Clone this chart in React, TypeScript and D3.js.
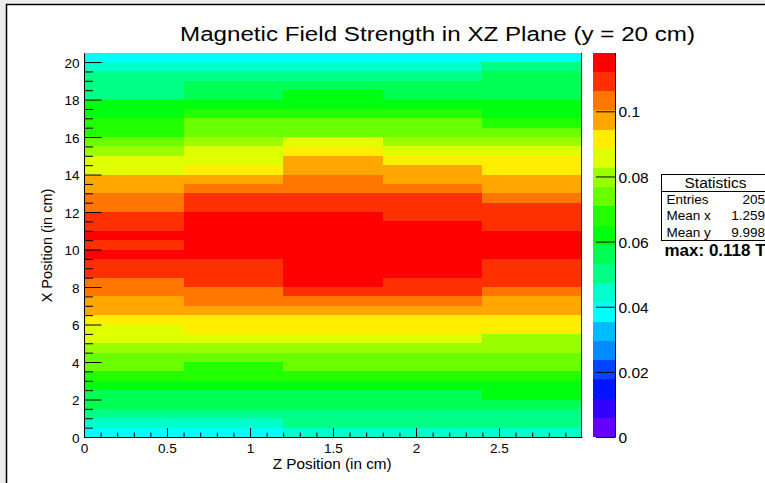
import React, { useEffect, useRef } from 'react';
import * as d3 from 'd3';

const W = 765;
const H = 483;

// z bin edges (cm) and the x bins (41 bins of 0.5 cm from 0)
const zEdges = [0, 0.6, 1.2, 1.8, 2.4, 3.0];
const xBinWidth = 0.5;
const xBinCount = 41;

// |B| in tesla per x bin (bottom to top), one list per z bin
const bZ03 = [0.039, 0.045, 0.05, 0.055, 0.058, 0.063, 0.068, 0.072, 0.076, 0.081, 0.084, 0.088, 0.092, 0.096, 0.099, 0.102, 0.105, 0.108, 0.111, 0.113, 0.111, 0.113, 0.111, 0.107, 0.105, 0.101, 0.099, 0.095, 0.088, 0.084, 0.08, 0.076, 0.07, 0.066, 0.063, 0.06, 0.052, 0.05, 0.048, 0.044, 0.039];
const bZ09 = [0.04, 0.046, 0.051, 0.056, 0.058, 0.064, 0.068, 0.07, 0.075, 0.08, 0.086, 0.09, 0.093, 0.098, 0.102, 0.105, 0.108, 0.11, 0.111, 0.114, 0.114, 0.115, 0.114, 0.113, 0.111, 0.108, 0.104, 0.099, 0.093, 0.088, 0.084, 0.08, 0.075, 0.072, 0.067, 0.062, 0.057, 0.054, 0.05, 0.045, 0.04];
const bZ15 = [0.043, 0.049, 0.052, 0.056, 0.058, 0.063, 0.067, 0.072, 0.076, 0.081, 0.086, 0.091, 0.093, 0.099, 0.104, 0.108, 0.113, 0.115, 0.116, 0.117, 0.118, 0.117, 0.116, 0.114, 0.111, 0.108, 0.105, 0.101, 0.097, 0.095, 0.091, 0.086, 0.076, 0.073, 0.068, 0.064, 0.06, 0.055, 0.051, 0.046, 0.041];
const bZ21 = [0.044, 0.049, 0.052, 0.056, 0.058, 0.063, 0.068, 0.072, 0.075, 0.08, 0.085, 0.09, 0.093, 0.098, 0.103, 0.107, 0.111, 0.113, 0.115, 0.116, 0.116, 0.115, 0.113, 0.111, 0.109, 0.107, 0.103, 0.099, 0.096, 0.092, 0.087, 0.081, 0.075, 0.072, 0.067, 0.062, 0.058, 0.055, 0.05, 0.045, 0.04];
const bZ27 = [0.042, 0.048, 0.051, 0.055, 0.06, 0.063, 0.067, 0.072, 0.075, 0.079, 0.082, 0.089, 0.093, 0.097, 0.1, 0.104, 0.107, 0.109, 0.111, 0.113, 0.114, 0.113, 0.11, 0.108, 0.107, 0.104, 0.099, 0.096, 0.092, 0.089, 0.085, 0.079, 0.073, 0.069, 0.064, 0.061, 0.057, 0.055, 0.054, 0.049, 0.04];
const columns = [bZ03, bZ09, bZ15, bZ21, bZ27];

const zMax = 0.118;
// 20 contour colours, low to high
const paletteColors = [
  '#6300ff', '#3300ff', '#0014ff', '#0044ff', '#008bff', '#00bbff', '#00fffc', '#00ffcc', '#00ff85', '#00ff55',
  '#00ff0e', '#22ff00', '#69ff00', '#99ff00', '#e0ff00', '#ffee00', '#ffa700', '#ff7700', '#ff3000', '#ff0000',
];

const zTicks = [0, 0.5, 1, 1.5, 2, 2.5];
const xTicks = [0, 2, 4, 6, 8, 10, 12, 14, 16, 18, 20];
const palTicks = [0, 0.02, 0.04, 0.06, 0.08, 0.1];

const statsRows = [
  ['Entries', '205'],
  ['Mean x', '1.259'],
  ['Mean y', '9.998'],
];

const font = "'Liberation Sans', Arial, Helvetica, sans-serif";

export default function App() {
  const ref = useRef<SVGSVGElement>(null);

  useEffect(() => {
    const svg = d3.select(ref.current);
    svg.selectAll('*').remove();

    // canvas
    svg.append('rect').attr('width', W).attr('height', H).attr('fill', '#ececec');
    svg.append('rect')
      .attr('x', 6.5).attr('y', 4.5)
      .attr('width', W).attr('height', H)
      .attr('fill', '#fff').attr('stroke', '#000').attr('stroke-width', 1.5);

    const x = d3.scaleLinear().domain([0, 3]).range([84, 582]);
    const y = d3.scaleLinear().domain([0, xBinCount * xBinWidth]).range([437, 52.7]);
    const pal = d3.scaleLinear().domain([0, zMax]).range([437, 52.7]);
    const nCol = paletteColors.length;
    const level = (v: number) => Math.min(nCol - 1, Math.floor((v / zMax) * nCol));

    // title
    svg.append('text')
      .attr('x', 180).attr('y', 41)
      .attr('font-family', font).attr('font-size', 20)
      .attr('textLength', 515).attr('lengthAdjust', 'spacingAndGlyphs')
      .text('Magnetic Field Strength in XZ Plane (y = 20 cm)');

    // cells
    const cells = columns.flatMap((col, c) => col.map((v, i) => ({ c, i, v })));
    svg.append('g')
      .attr('shape-rendering', 'crispEdges')
      .selectAll('rect')
      .data(cells)
      .join('rect')
      .attr('x', d => x(zEdges[d.c]))
      .attr('width', d => x(zEdges[d.c + 1]) - x(zEdges[d.c]))
      .attr('y', d => y((d.i + 1) * xBinWidth))
      .attr('height', d => y(d.i * xBinWidth) - y((d.i + 1) * xBinWidth))
      .attr('fill', d => paletteColors[level(d.v)]);

    // right frame edge
    svg.append('line')
      .attr('x1', 581.5).attr('x2', 581.5).attr('y1', 52.7).attr('y2', 437)
      .attr('stroke', '#333');

    const styleAxis = (g: any, size: number) => {
      g.attr('font-family', font).attr('font-size', size);
      g.selectAll('text').attr('fill', '#000');
      g.selectAll('line').attr('stroke', '#000');
      g.select('.domain').attr('stroke', '#000');
    };

    // y axis (X position)
    const minorY = d3.range(0, 20.01, 0.5).filter(v => Math.round(v * 2) % 4 !== 0);
    svg.append('g').attr('transform', 'translate(84,0)')
      .call(d3.axisLeft(y).tickValues(minorY).tickSize(-9).tickSizeOuter(0).tickFormat(() => ''))
      .call(g => g.select('.domain').remove())
      .call(g => g.selectAll('line').attr('stroke', '#000'));
    const yAxis = svg.append('g').attr('transform', 'translate(84,0)')
      .call(d3.axisLeft(y).tickValues(xTicks).tickSize(-17.5).tickSizeOuter(0).tickPadding(4.5).tickFormat(d3.format('d')));
    styleAxis(yAxis, 13.5);
    yAxis.selectAll('text').attr('dy', '0.4em');

    // x axis (Z position)
    const minorZ = d3.range(0, 3.001, 0.1).filter(v => Math.round(v * 10) % 5 !== 0);
    svg.append('g').attr('transform', 'translate(0,437)')
      .call(d3.axisBottom(x).tickValues(minorZ).tickSize(-4.5).tickSizeOuter(0).tickFormat(() => ''))
      .call(g => g.select('.domain').remove())
      .call(g => g.selectAll('line').attr('stroke', '#000'));
    const xAxis = svg.append('g').attr('transform', 'translate(0,437)')
      .call(d3.axisBottom(x).tickValues(zTicks).tickSize(-9).tickSizeOuter(0).tickPadding(6).tickFormat(d3.format('~g')));
    styleAxis(xAxis, 13.5);

    // axis titles
    svg.append('text')
      .attr('x', 391.7).attr('y', 468.5)
      .attr('text-anchor', 'end')
      .attr('font-family', font).attr('font-size', 14.5)
      .attr('textLength', 119).attr('lengthAdjust', 'spacingAndGlyphs')
      .text('Z Position (in cm)');
    svg.append('text')
      .attr('transform', 'translate(52,188.7) rotate(-90)')
      .attr('text-anchor', 'end')
      .attr('font-family', font).attr('font-size', 14.5)
      .text('X Position (in cm)');

    // palette
    svg.append('g')
      .attr('shape-rendering', 'crispEdges')
      .selectAll('rect')
      .data(paletteColors)
      .join('rect')
      .attr('x', 593).attr('width', 22)
      .attr('y', (_, k) => pal(((k + 1) * zMax) / nCol))
      .attr('height', (_, k) => pal((k * zMax) / nCol) - pal(((k + 1) * zMax) / nCol))
      .attr('fill', d => d);
    const palAxis = svg.append('g').attr('transform', 'translate(615,0)')
      .call(d3.axisRight(pal).tickValues(palTicks).tickSize(-19).tickSizeOuter(0).tickPadding(3.5).tickFormat(d3.format('~g')));
    styleAxis(palAxis, 15.5);
    palAxis.selectAll('text').attr('dy', '0.36em');

    // statistics box
    const stats = svg.append('g').attr('font-family', font);
    stats.append('rect')
      .attr('x', 661.5).attr('y', 174.5).attr('width', 140).attr('height', 66)
      .attr('fill', '#fff').attr('stroke', '#000');
    stats.append('line')
      .attr('x1', 661.5).attr('x2', W).attr('y1', 191.5).attr('y2', 191.5)
      .attr('stroke', '#000');
    stats.append('text')
      .attr('x', 715.5).attr('y', 188)
      .attr('text-anchor', 'middle').attr('font-size', 15.5)
      .text('Statistics');
    statsRows.forEach(([label, value], i) => {
      const by = 204 + i * 16.3;
      stats.append('text').attr('x', 666.5).attr('y', by).attr('font-size', 13.5).text(label);
      stats.append('text').attr('x', 765).attr('y', by).attr('text-anchor', 'end').attr('font-size', 13.5).text(value);
    });

    svg.append('text')
      .attr('x', 664.5).attr('y', 256)
      .attr('font-family', font).attr('font-size', 17).attr('font-weight', 'bold')
      .text(`max: ${zMax.toFixed(3)} T`);
  }, []);

  return (
    <div style={{ position: 'absolute', left: 0, top: 0, width: W, height: H, overflow: 'hidden' }}>
      <svg ref={ref} width={W} height={H} />
    </div>
  );
}
